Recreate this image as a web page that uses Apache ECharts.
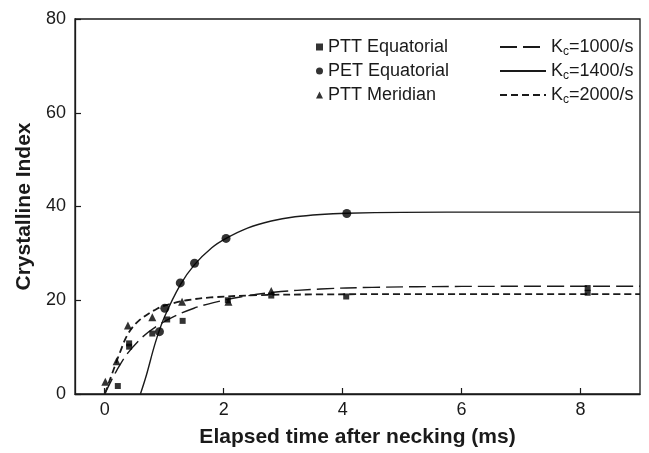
<!DOCTYPE html>
<html>
<head>
<meta charset="utf-8">
<script src="https://cdn.jsdelivr.net/npm/echarts@6/dist/echarts.min.js"></script>
<style>
  html, body { margin: 0; padding: 0; background: #fff; }
  #chart { width: 649px; height: 453px; }
</style>
</head>
<body>
<div id="chart"></div>
<script>
// Measured points: [time (ms), crystalline index]
const pttEquatorial = [
  [0.22, 1.7], [0.41, 10.8], [0.41, 10.1], [0.80, 12.9], [1.05, 15.9],
  [1.31, 15.6], [2.07, 20.0], [2.80, 21.0], [4.06, 20.8], [8.12, 22.6], [8.12, 21.6]
];
const petEquatorial = [
  [0.92, 13.3], [1.01, 18.3], [1.27, 23.7], [1.51, 27.9], [2.04, 33.2], [4.07, 38.5]
];
const pttMeridian = [
  [0.01, 2.6], [0.20, 7.0], [0.39, 14.6], [0.80, 16.4], [1.30, 19.7], [2.08, 19.7], [2.80, 22.0]
];

// Model curves for each crystallization rate constant
const kc1000 = [
  [0, 0], [0.1, 2.6], [0.2, 5.0], [0.38, 8.6], [0.63, 12.1], [0.88, 14.5], [1.16, 16.5],
  [1.5, 18.3], [1.83, 19.5], [2.28, 20.7], [2.84, 21.7], [3.63, 22.4], [4.5, 22.75],
  [6, 22.95], [9, 23.0]
];
const kc1400 = [
  [0.6, 0], [0.7, 4.0], [0.85, 10.9], [1.0, 16.3], [1.27, 23.3], [1.51, 27.6], [1.8, 31.2],
  [2.04, 33.2], [2.4, 35.4], [2.8, 36.9], [3.2, 37.8], [3.63, 38.3], [4.07, 38.55],
  [5, 38.75], [6.5, 38.8], [9, 38.8]
];
const kc2000 = [
  [0, 0], [0.1, 3.5], [0.26, 9.0], [0.39, 12.8], [0.57, 15.6], [0.88, 18.2], [1.1, 19.2],
  [1.38, 20.0], [1.78, 20.6], [2.62, 21.1], [3.63, 21.25], [5, 21.3], [9, 21.3]
];

const xTicks = [0, 2, 4, 6, 8];
const yTicks = [0, 20, 40, 60, 80];

const FONT = '"Liberation Sans", Arial, sans-serif';
const INK = '#1a1a1a';

const chart = echarts.init(document.getElementById('chart'), null, { renderer: 'canvas' });

function curve(name, data, type, width) {
  return {
    name: name,
    type: 'line',
    data: data,
    smooth: 0.35,
    symbol: 'none',
    silent: true,
    z: 2,
    itemStyle: { color: INK },
    lineStyle: { color: INK, width: width, type: type }
  };
}

function points(name, data, symbol, size) {
  return {
    name: name,
    type: 'scatter',
    data: data,
    symbol: symbol,
    symbolSize: size,
    z: 3,
    itemStyle: { color: '#000' }
  };
}

chart.setOption({
  animation: false,
  backgroundColor: '#fff',
  grid: {
    left: 75, right: 9, top: 19, bottom: 59,
    show: true, borderColor: INK, borderWidth: 1.3, backgroundColor: 'transparent'
  },
  xAxis: {
    type: 'value',
    min: -0.5, max: 9,
    name: 'Elapsed time after necking (ms)',
    nameLocation: 'middle',
    nameGap: 33,
    nameTextStyle: { fontFamily: FONT, fontSize: 21, fontWeight: 'bold', color: INK },
    splitLine: { show: false },
    axisLine: { show: true, onZero: false, lineStyle: { color: INK, width: 1.3 } },
    axisTick: { show: true, inside: true, length: 6, customValues: xTicks, lineStyle: { color: INK, width: 1.2 } },
    axisLabel: { customValues: xTicks, margin: 7, fontFamily: FONT, fontSize: 18, color: INK }
  },
  yAxis: {
    type: 'value',
    min: 0, max: 80, interval: 20,
    name: 'Crystalline Index',
    nameLocation: 'middle',
    nameGap: 39,
    nameTextStyle: { fontFamily: FONT, fontSize: 21, fontWeight: 'bold', color: INK },
    splitLine: { show: false },
    axisLine: { show: true, onZero: false, lineStyle: { color: INK, width: 1.3 } },
    axisTick: { show: true, inside: true, length: 6, lineStyle: { color: INK, width: 1.2 } },
    axisLabel: { margin: 9, fontFamily: FONT, fontSize: 18, color: INK,
      formatter: v => (yTicks.indexOf(v) >= 0 ? String(v) : '') }
  },
  legend: [
    {
      data: ['PTT Equatorial', 'PET Equatorial', 'PTT Meridian'],
      orient: 'vertical',
      left: 311, top: 33,
      itemWidth: 7, itemHeight: 7, itemGap: 6,
      selectedMode: false,
      textStyle: { fontFamily: FONT, fontSize: 18, color: INK }
    },
    {
      data: ['Kc=1000/s', 'Kc=1400/s', 'Kc=2000/s'],
      orient: 'vertical',
      left: 494, top: 31,
      itemWidth: 46, itemHeight: 14, itemGap: 2,
      selectedMode: false,
      itemStyle: { opacity: 0 },
      formatter: name => 'K{sub|c}' + name.slice(2),
      textStyle: {
        fontFamily: FONT, fontSize: 18, color: INK, lineHeight: 22, verticalAlign: 'middle',
        rich: {
          sub: { fontFamily: FONT, fontSize: 12, color: INK, lineHeight: 13, verticalAlign: 'bottom' }
        }
      }
    }
  ],
  series: [
    curve('Kc=1000/s', kc1000, [17, 6], 1.4),
    curve('Kc=1400/s', kc1400, 'solid', 1.4),
    curve('Kc=2000/s', kc2000, [7, 4], 1.8),
    points('PTT Equatorial', pttEquatorial, 'rect', 6),
    points('PET Equatorial', petEquatorial, 'circle', 9),
    points('PTT Meridian', pttMeridian, 'triangle', 8)
  ]
});
</script>
</body>
</html>
